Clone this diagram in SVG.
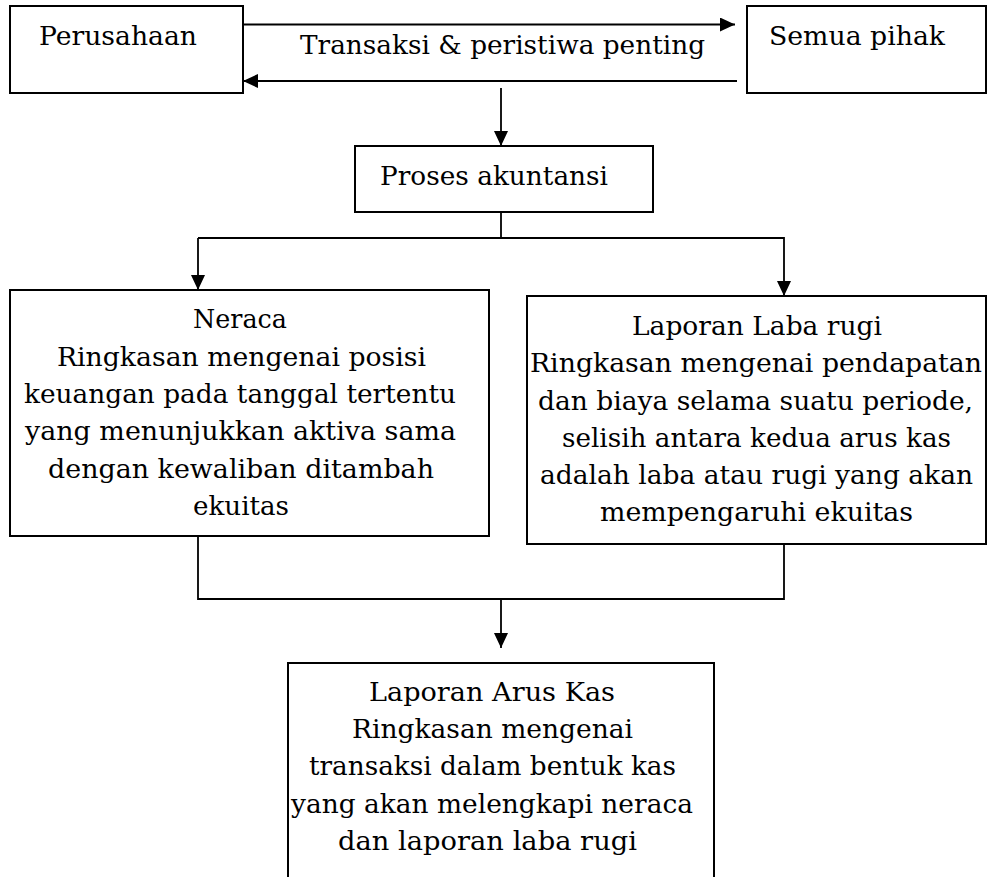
<svg xmlns="http://www.w3.org/2000/svg" width="991" height="877" viewBox="0 0 991 877">
<style>
  .box { fill: #fff; stroke: #000; stroke-width: 2; }
  .t { font-family: "DejaVu Serif", "Liberation Serif", serif; font-size: 26px; fill: #000; }
  .c { fill: none; stroke: #000; stroke-width: 1.8; }
</style>
<defs>
  <marker id="ah" markerUnits="userSpaceOnUse" markerWidth="15" markerHeight="14" refX="15" refY="7" orient="auto">
    <path d="M0,0 L15,7 L0,14 Z" fill="#000"/>
  </marker>
</defs>
<rect width="991" height="877" fill="#fff"/>

<g id="connectors">
  <line class="c" x1="243" y1="24.5" x2="735" y2="24.5" marker-end="url(#ah)"/>
  <line class="c" x1="737" y1="81" x2="243" y2="81" marker-end="url(#ah)"/>
  <line class="c" x1="501" y1="88" x2="501" y2="146" marker-end="url(#ah)"/>
  <polyline class="c" points="501,212 501,238"/>
  <polyline class="c" points="198,238 784,238 784,296" marker-end="url(#ah)"/>
  <line class="c" x1="198" y1="238" x2="198" y2="290" marker-end="url(#ah)"/>
  <polyline class="c" points="198,536 198,599 784,599 784,544"/>
  <line class="c" x1="501" y1="599" x2="501" y2="648" marker-end="url(#ah)"/>
</g>

<g id="perusahaan">
  <rect class="box" x="10" y="6" width="233" height="87"/>
  <text class="t" x="39" y="45" textLength="158" lengthAdjust="spacingAndGlyphs">Perusahaan</text>
</g>

<g id="label-transaksi">
  <text class="t" x="300" y="54" textLength="405" lengthAdjust="spacingAndGlyphs">Transaksi &amp; peristiwa penting</text>
</g>

<g id="semua-pihak">
  <rect class="box" x="747" y="6" width="239" height="87"/>
  <text class="t" x="769" y="45" textLength="176" lengthAdjust="spacingAndGlyphs">Semua pihak</text>
</g>

<g id="proses">
  <rect class="box" x="355" y="146" width="298" height="66"/>
  <text class="t" x="380" y="185" textLength="228" lengthAdjust="spacingAndGlyphs">Proses akuntansi</text>
</g>

<g id="neraca">
  <rect class="box" x="10" y="290" width="479" height="246"/>
  <text class="t" x="193" y="328" textLength="94" lengthAdjust="spacingAndGlyphs">Neraca</text>
  <text class="t" x="57" y="366" textLength="369" lengthAdjust="spacingAndGlyphs">Ringkasan mengenai posisi</text>
  <text class="t" x="24" y="403" textLength="432" lengthAdjust="spacingAndGlyphs">keuangan pada tanggal tertentu</text>
  <text class="t" x="25" y="440" textLength="431" lengthAdjust="spacingAndGlyphs">yang menunjukkan aktiva sama</text>
  <text class="t" x="48" y="478" textLength="386" lengthAdjust="spacingAndGlyphs">dengan kewaliban ditambah</text>
  <text class="t" x="193" y="515" textLength="96" lengthAdjust="spacingAndGlyphs">ekuitas</text>
</g>

<g id="laba-rugi">
  <rect class="box" x="527" y="296" width="459" height="248"/>
  <text class="t" x="632" y="335" textLength="250" lengthAdjust="spacingAndGlyphs">Laporan Laba rugi</text>
  <text class="t" x="530" y="372" textLength="452" lengthAdjust="spacingAndGlyphs">Ringkasan mengenai pendapatan</text>
  <text class="t" x="538" y="410" textLength="435" lengthAdjust="spacingAndGlyphs">dan biaya selama suatu periode,</text>
  <text class="t" x="562" y="447" textLength="389" lengthAdjust="spacingAndGlyphs">selisih antara kedua arus kas</text>
  <text class="t" x="540" y="484" textLength="433" lengthAdjust="spacingAndGlyphs">adalah laba atau rugi yang akan</text>
  <text class="t" x="600" y="521" textLength="313" lengthAdjust="spacingAndGlyphs">mempengaruhi ekuitas</text>
</g>

<g id="arus-kas">
  <rect class="box" x="288" y="663" width="426" height="240"/>
  <text class="t" x="369" y="701" textLength="246" lengthAdjust="spacingAndGlyphs">Laporan Arus Kas</text>
  <text class="t" x="352" y="738" textLength="281" lengthAdjust="spacingAndGlyphs">Ringkasan mengenai</text>
  <text class="t" x="309" y="775" textLength="367" lengthAdjust="spacingAndGlyphs">transaksi dalam bentuk kas</text>
  <text class="t" x="291" y="813" textLength="402" lengthAdjust="spacingAndGlyphs">yang akan melengkapi neraca</text>
  <text class="t" x="338" y="850" textLength="299" lengthAdjust="spacingAndGlyphs">dan laporan laba rugi</text>
</g>
</svg>
